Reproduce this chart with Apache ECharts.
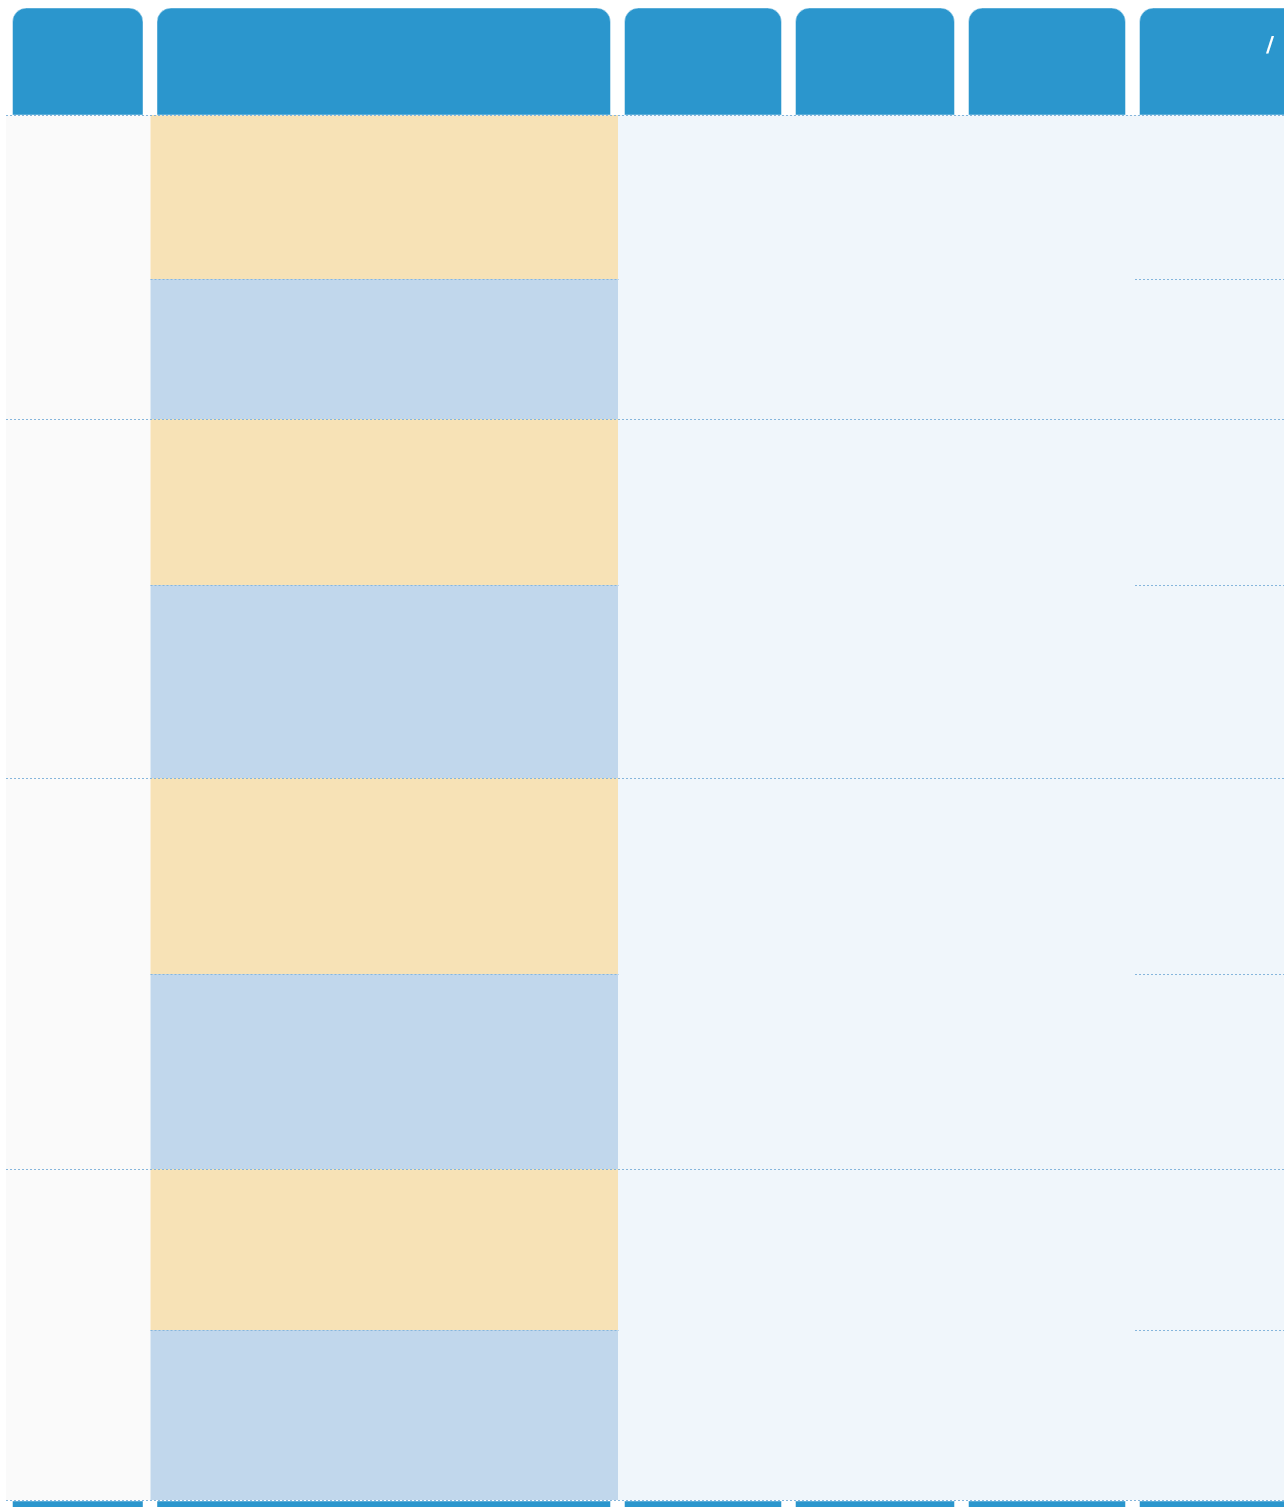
<!DOCTYPE html>
<html><head><meta charset="utf-8">
<script src="https://cdn.jsdelivr.net/npm/echarts@6/dist/echarts.min.js"></script>
<style>html,body{margin:0;padding:0;background:#fff;overflow:hidden}#c{width:1284px;height:1507px}</style>
</head><body><div id="c"></div>
<script>
// ---- content (only glyph legible in the reference is the "/" in the last header)
const headerLabels = ['', '', '', '', '', '/'];
const groupCount = 4;
const subRowsPerGroup = [2, 2, 2, 2];
const subRowTone = ['warm', 'cool', 'warm', 'cool', 'warm', 'cool', 'warm', 'cool'];

// ---- layout (table geometry in page units)
const colEdges = [6, 150.5, 618, 789, 962, 1133, 1306];
const rowEdges = [115, 279, 419, 585, 778, 974, 1169, 1330, 1500];
const headerTop = 8, footerTop = 1501, footerBottom = 1620;

// ---- styles
const C = {
  header: '#2b96cd', gray: '#fafafa', warm: '#f7e2b6', cool: '#c1d7ec',
  light: '#f0f6fb', line: '#86b6dc'
};

// build cell rectangles
const fills = [];
fills.push([colEdges[0], rowEdges[0], colEdges[1], rowEdges[rowEdges.length - 1], C.gray]);
for (let i = 0; i < rowEdges.length - 1; i++) {
  fills.push([colEdges[1], rowEdges[i], colEdges[2], rowEdges[i + 1], C[subRowTone[i]]]);
}
fills.push([colEdges[2], rowEdges[0], colEdges[6], rowEdges[rowEdges.length - 1], C.light]);

const heads = [];
for (let c = 0; c < 6; c++) {
  heads.push([colEdges[c] + 6.5, headerTop, colEdges[c + 1] - 7.5, rowEdges[0], headerLabels[c], 0]);
  heads.push([colEdges[c] + 6.5, footerTop, colEdges[c + 1] - 7.5, footerBottom, '', 1]);
}

const lines = [];
let idx = 0;
const groupLineRows = [0];
subRowsPerGroup.forEach(n => { idx += n; groupLineRows.push(idx); });
for (let r = 0; r < rowEdges.length; r++) {
  if (groupLineRows.indexOf(r) >= 0) {
    lines.push([colEdges[0], rowEdges[r], colEdges[6], rowEdges[r]]);
  } else {
    lines.push([colEdges[1], rowEdges[r], colEdges[2] + 1, rowEdges[r]]);
    lines.push([colEdges[5] + 2, rowEdges[r], colEdges[6], rowEdges[r]]);
  }
}

const chart = echarts.init(document.getElementById('c'), null, { renderer: 'canvas' });
chart.setOption({
  animation: false,
  backgroundColor: '#ffffff',
  grid: { left: 0, right: 0, top: 0, bottom: 0 },
  xAxis: { type: 'value', min: 0, max: 1284, show: false },
  yAxis: { type: 'value', min: 0, max: 1507, inverse: true, show: false },
  series: [
    {
      type: 'custom', data: fills, clip: false, z: 1,
      encode: { x: [0, 2], y: [1, 3] },
      renderItem: (params, api) => {
        const d = fills[params.dataIndex];
        const p0 = api.coord([d[0], d[1]]), p1 = api.coord([d[2], d[3]]);
        return { type: 'rect', shape: { x: p0[0], y: p0[1], width: p1[0] - p0[0], height: p1[1] - p0[1] },
          style: { fill: d[4] } };
      }
    },
    {
      type: 'custom', data: heads, clip: false, z: 2,
      encode: { x: [0, 2], y: [1, 3] },
      renderItem: (params, api) => {
        const d = heads[params.dataIndex];
        const p0 = api.coord([d[0], d[1]]), p1 = api.coord([d[2], d[3]]);
        const el = { type: 'rect',
          shape: { x: p0[0], y: p0[1], width: p1[0] - p0[0], height: p1[1] - p0[1], r: d[5] ? [0, 0, 0, 0] : [14, 14, 0, 0] },
          style: { fill: C.header, stroke: 'rgba(255,255,255,0.45)', lineWidth: 1 } };
        if (d[4]) {
          el.textContent = { style: { text: d[4], fill: '#ffffff', fontSize: 22, fontWeight: 'bold', fontFamily: 'DejaVu Sans', align: 'center', verticalAlign: 'middle' } };
          el.textConfig = { position: [p1[0] - p0[0] - 28, 39] };
        }
        return el;
      }
    },
    {
      type: 'custom', data: lines, clip: false, z: 3,
      encode: { x: [0, 2], y: [1, 3] },
      renderItem: (params, api) => {
        const d = lines[params.dataIndex];
        const p0 = api.coord([d[0], d[1]]), p1 = api.coord([d[2], d[3]]);
        return { type: 'line', shape: { x1: p0[0], y1: p0[1] + 0.5, x2: p1[0], y2: p1[1] + 0.5 },
          style: { stroke: C.line, lineWidth: 1, lineDash: [2, 2] } };
      }
    }
  ]
});
</script></body></html>
